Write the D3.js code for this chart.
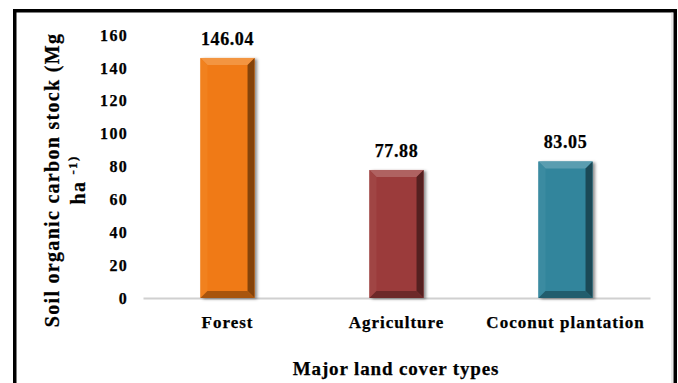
<!DOCTYPE html>
<html>
<head>
<meta charset="utf-8">
<script src="https://cdn.jsdelivr.net/npm/d3@7"></script>
<style>
  html, body { margin: 0; padding: 0; background: #fff; }
  svg { display: block; }
  text { font-family: "Liberation Serif", "Times New Roman", serif; font-weight: bold; fill: #000;
         stroke: #000; stroke-width: 0.25px; }
</style>
</head>
<body>
<svg id="chart" width="678" height="383"></svg>
<script>
// Soil organic carbon stock by land cover type
const categories = ["Forest", "Agriculture", "Coconut plantation"];
const values = [146.04, 77.88, 83.05];
const barColors = ["#F07A12", "#9B3B3A", "#31859C"];
const yTicks = [0, 20, 40, 60, 80, 100, 120, 140, 160];

const W = 678, H = 383;
const svg = d3.select("#chart");

const x = d3.scaleBand().domain(categories).range([143, 650]).paddingInner(0.68).paddingOuter(0.34);
const y = d3.scaleLinear().domain([0, 160]).range([298, 35]);

// outer frame
svg.append("rect").attr("x", 14.75).attr("y", 10.75).attr("width", 660.5).attr("height", 420)
  .attr("fill", "none").attr("stroke", "#000").attr("stroke-width", 3.5);
svg.append("line").attr("x1", 672).attr("x2", 672).attr("y1", 12.5).attr("y2", H)
  .attr("stroke", "#d4d4d4").attr("stroke-width", 1);

const defs = svg.append("defs");
const shadow = defs.append("filter").attr("id", "shadow").attr("x", "-20%").attr("y", "-10%").attr("width", "150%").attr("height", "130%");
shadow.append("feDropShadow").attr("dx", 2.5).attr("dy", 1).attr("stdDeviation", 1.5)
  .attr("flood-color", "#000").attr("flood-opacity", 0.45);

// y axis (labels only)
const yAxis = svg.append("g").attr("transform", "translate(143,0)")
  .call(d3.axisLeft(y).tickValues(yTicks).tickSize(0).tickPadding(15));
yAxis.select(".domain").remove();
yAxis.selectAll("text").attr("font-size", 16).attr("font-family", "Liberation Serif").attr("font-weight", "bold")
  .attr("letter-spacing", 1.3).attr("fill", "#000");

// x axis baseline and labels
const xAxis = svg.append("g").attr("transform", `translate(0,${y(0)})`)
  .call(d3.axisBottom(x).tickSize(0).tickPadding(18));
xAxis.select(".domain").attr("stroke", "#d0d0d0").attr("stroke-width", 2);
xAxis.selectAll("text").attr("font-size", 17).attr("font-family", "Liberation Serif").attr("font-weight", "bold")
  .attr("letter-spacing", 1.0).attr("fill", "#000");

// bevelled bars
const bev = 7;
function shade(c, k) { return k > 0 ? d3.interpolateRgb(c, "#fff")(k) : d3.interpolateRgb(c, "#000")(-k); }

const bars = svg.append("g").selectAll("g").data(categories).join("g");
bars.each(function(cat, i) {
  const g = d3.select(this);
  const x0 = x(cat), w = x.bandwidth(), y0 = y(values[i]), y1 = y(0), c = barColors[i];
  const b = Math.min(bev, (y1 - y0) / 2);
  g.append("rect").attr("x", x0).attr("y", y0).attr("width", w).attr("height", y1 - y0)
    .attr("fill", c).attr("filter", "url(#shadow)");
  const poly = pts => "M" + pts.map(p => p.join(",")).join("L") + "Z";
  // top facet
  g.append("path").attr("d", poly([[x0, y0], [x0 + w, y0], [x0 + w - b, y0 + b], [x0 + b, y0 + b]]))
    .attr("fill", shade(c, 0.2));
  // left facet
  g.append("path").attr("d", poly([[x0, y0], [x0 + b, y0 + b], [x0 + b, y1 - b], [x0, y1]]))
    .attr("fill", shade(c, 0.05));
  // right facet
  g.append("path").attr("d", poly([[x0 + w, y0], [x0 + w, y1], [x0 + w - b, y1 - b], [x0 + w - b, y0 + b]]))
    .attr("fill", shade(c, -0.45));
  // bottom facet
  g.append("path").attr("d", poly([[x0, y1], [x0 + b, y1 - b], [x0 + w - b, y1 - b], [x0 + w, y1]]))
    .attr("fill", shade(c, -0.3));
  // value label
  g.append("text").attr("x", x0 + w / 2).attr("y", y0 - 13).attr("text-anchor", "middle")
    .attr("font-size", 18).attr("letter-spacing", 0.6).text(values[i].toFixed(2));
});

// axis titles
svg.append("text").attr("x", 396).attr("y", 375).attr("text-anchor", "middle")
  .attr("font-size", 19).attr("letter-spacing", 0.85).text("Major land cover types");

const yt = svg.append("g").attr("transform", "translate(59,180) rotate(-90)");
yt.append("text").attr("x", 0).attr("y", 0).attr("text-anchor", "middle")
  .attr("font-size", 20).attr("letter-spacing", 1.3).text("Soil organic carbon stock (Mg");
const l2 = yt.append("text").attr("x", 0).attr("y", 26).attr("text-anchor", "middle")
  .attr("font-size", 20).attr("letter-spacing", 1.3);
l2.append("tspan").text("ha ");
l2.append("tspan").attr("font-size", 13).attr("dy", -8).text("-1)");
</script>
</body>
</html>
